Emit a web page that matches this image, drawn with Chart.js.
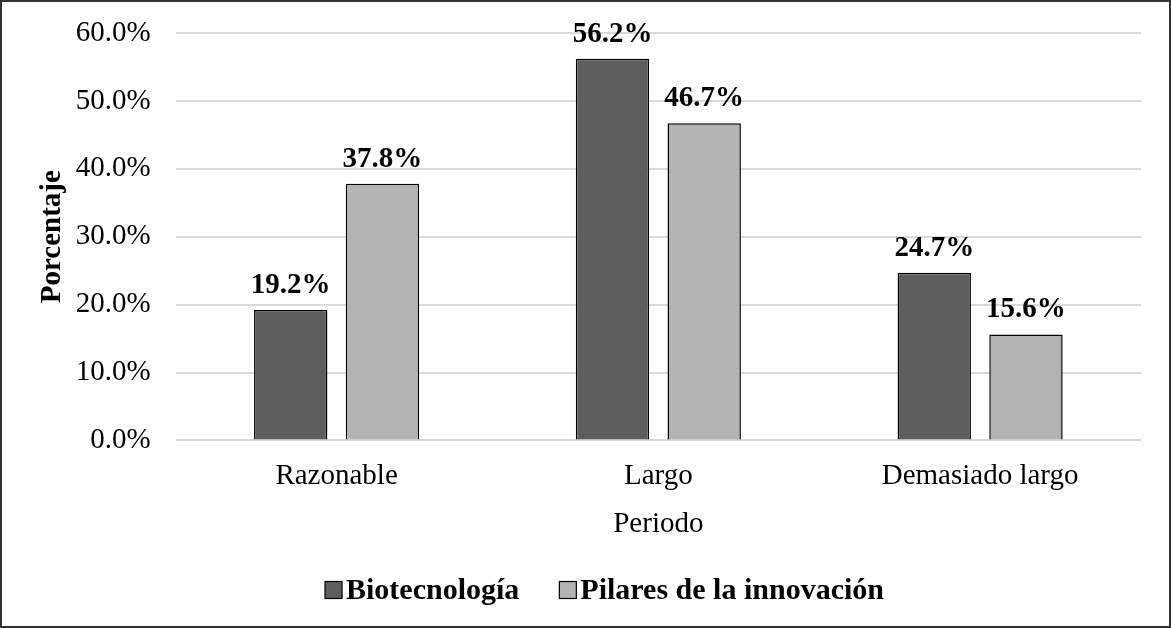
<!DOCTYPE html>
<html>
<head>
<meta charset="utf-8">
<script src="https://cdn.jsdelivr.net/npm/chart.js@4/dist/chart.umd.min.js"></script>
<style>
  html, body { margin: 0; padding: 0; background: #fff; }
  #wrap {
    width: 1171px; height: 628px; box-sizing: border-box;
    border: 2px solid #333; position: relative;
  }
</style>
</head>
<body>
<div id="wrap"><canvas id="chart"></canvas></div>
<script>
// datos
const categories = ['Razonable', 'Largo', 'Demasiado largo'];
const biotecnologia = [19.2, 56.2, 24.7];
const pilares = [37.8, 46.7, 15.6];
const seriesNames = ['Biotecnología', 'Pilares de la innovación'];
const seriesColors = ['#5e5e5e', '#b3b3b3'];

const FONT = '"Liberation Serif", "Times New Roman", serif';

// etiquetas de valor encima de cada barra
const barLabels = {
    id: 'barLabels',
    afterDatasetsDraw(chart) {
        const ctx = chart.ctx;
        ctx.save();
        ctx.font = 'bold 29px ' + FONT;
        ctx.fillStyle = '#000';
        ctx.textAlign = 'center';
        ctx.textBaseline = 'alphabetic';
        chart.data.datasets.forEach((ds, i) => {
            chart.getDatasetMeta(i).data.forEach((bar, j) => {
                ctx.fillText(ds.data[j].toFixed(1) + '%', bar.x, bar.y - 17);
            });
        });
        ctx.restore();
    }
};

// leyenda abajo, cuadro pegado al texto como en Excel
const bottomLegend = {
    id: 'bottomLegend',
    afterDraw(chart) {
        const ctx = chart.ctx;
        const box = 17, gap = 4, itemGap = 40;
        ctx.save();
        ctx.font = 'bold 30px ' + FONT;
        const items = chart.data.datasets.map(ds => ({
            text: ds.label, color: ds.backgroundColor, w: ctx.measureText(ds.label).width
        }));
        let total = 0;
        items.forEach((it, i) => { total += box + gap + it.w + (i ? itemGap : 0); });
        let x = chart.width / 2 + 19 - total / 2;
        const y = chart.height - 36;
        ctx.textBaseline = 'middle';
        ctx.textAlign = 'left';
        items.forEach(it => {
            ctx.fillStyle = it.color;
            ctx.fillRect(x, y - box / 2, box, box);
            ctx.strokeStyle = '#000';
            ctx.lineWidth = 1.2;
            ctx.strokeRect(x, y - box / 2, box, box);
            x += box + gap;
            ctx.fillStyle = '#000';
            ctx.fillText(it.text, x, y + 1);
            x += it.w + itemGap;
        });
        ctx.restore();
    }
};

const ctx = document.getElementById('chart').getContext('2d');
const chart = new Chart(ctx, {
    type: 'bar',
    data: {
        labels: categories,
        datasets: [
            {
                label: seriesNames[0],
                data: biotecnologia,
                backgroundColor: seriesColors[0],
                borderColor: '#000',
                borderWidth: 1.5,
                categoryPercentage: 0.57,
                barPercentage: 0.8
            },
            {
                label: seriesNames[1],
                data: pilares,
                backgroundColor: seriesColors[1],
                borderColor: '#000',
                borderWidth: 1.5,
                categoryPercentage: 0.57,
                barPercentage: 0.8
            }
        ]
    },
    options: {
        responsive: true,
        maintainAspectRatio: false,
        animation: false,
        layout: { padding: { top: 31, right: 28, left: 30, bottom: 84 } },
        scales: {
            y: {
                min: 0,
                max: 60,
                ticks: {
                    stepSize: 10,
                    color: '#000',
                    font: { family: FONT, size: 29 },
                    padding: 0,
                    callback: v => v.toFixed(1) + '%'
                },
                // marcas invisibles para separar las etiquetas de la rejilla
                grid: { color: '#d9d9d9', lineWidth: 2, drawTicks: true, tickLength: 25, tickColor: 'rgba(0,0,0,0)' },
                border: { display: false },
                title: {
                    display: true,
                    text: 'Porcentaje',
                    color: '#000',
                    font: { family: FONT, size: 29, weight: 'bold' },
                    padding: { top: 3, bottom: 6 }
                }
            },
            x: {
                ticks: {
                    color: '#000',
                    font: { family: FONT, size: 29 },
                    padding: 0
                },
                grid: { display: false, drawTicks: true, tickLength: 19 },
                border: { display: false },
                title: {
                    display: true,
                    text: 'Periodo',
                    color: '#000',
                    font: { family: FONT, size: 29 },
                    padding: { top: 13, bottom: 0 }
                }
            }
        },
        plugins: {
            legend: { display: false },
            tooltip: { enabled: false }
        }
    },
    plugins: [barLabels, bottomLegend]
});
</script>
</body>
</html>
